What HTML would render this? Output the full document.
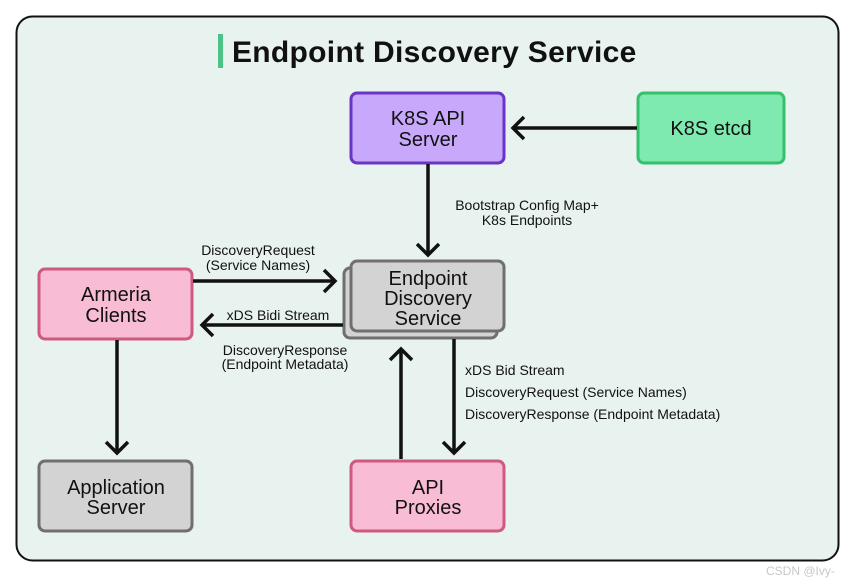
<!DOCTYPE html>
<html><head><meta charset="utf-8"><style>
html,body{margin:0;padding:0;background:#fff;}
svg{display:block;}
text{font-family:"Liberation Sans",sans-serif;fill:#111;}
</style></head><body>
<svg width="855" height="584" viewBox="0 0 855 584" xmlns="http://www.w3.org/2000/svg">
<rect x="16.5" y="16.5" width="822" height="544" rx="16" fill="#e8f2ee" stroke="#111" stroke-width="2"/>
<rect x="218" y="34" width="5" height="34" fill="#4cc287"/>
<text x="232" y="62" font-size="30" font-weight="bold" letter-spacing="0.3">Endpoint Discovery Service</text>

<g stroke-width="3" stroke-linejoin="round">
<rect x="351" y="93" width="153" height="70" rx="6" fill="#c8a8fb" stroke="#6a35c4"/>
<rect x="638" y="93" width="146" height="70" rx="6" fill="#7eeab0" stroke="#35c06d"/>
<rect x="39" y="269" width="153" height="70" rx="6" fill="#f8bcd5" stroke="#cf5a80"/>
<rect x="344" y="268" width="153" height="70" rx="6" fill="#d3d3d3" stroke="#6f6f6f"/>
<rect x="351" y="261" width="153" height="70" rx="6" fill="#d3d3d3" stroke="#6f6f6f"/>
<rect x="39" y="461" width="153" height="70" rx="6" fill="#d3d3d3" stroke="#6f6f6f"/>
<rect x="351" y="461" width="153" height="70" rx="6" fill="#f8bcd5" stroke="#cf5a80"/>
</g>

<g font-size="20" text-anchor="middle">
<text x="428" y="125">K8S API</text><text x="428" y="146">Server</text>
<text x="711" y="135">K8S etcd</text>
<text x="116" y="301">Armeria</text><text x="116" y="322">Clients</text>
<text x="428" y="285">Endpoint</text><text x="428" y="305">Discovery</text><text x="428" y="325">Service</text>
<text x="116" y="494">Application</text><text x="116" y="514">Server</text>
<text x="428" y="494">API</text><text x="428" y="514">Proxies</text>
</g>

<g stroke="#111" stroke-width="3.5" fill="none" stroke-linecap="butt">
<line x1="637" y1="128" x2="513" y2="128"/><polyline points="524,117 513,128 524,139"/>
<line x1="428" y1="164" x2="428" y2="255"/><polyline points="417,244 428,255 439,244"/>
<line x1="193" y1="281" x2="335" y2="281"/><polyline points="324,270 335,281 324,292"/>
<line x1="343" y1="325" x2="202" y2="325"/><polyline points="213,314 202,325 213,336"/>
<line x1="117" y1="340" x2="117" y2="453"/><polyline points="106,442 117,453 128,442"/>
<line x1="401" y1="459" x2="401" y2="349"/><polyline points="390,360 401,349 412,360"/>
<line x1="454" y1="339" x2="454" y2="453"/><polyline points="443,442 454,453 465,442"/>
</g>

<g font-size="14" text-anchor="middle">
<text x="527" y="210">Bootstrap Config Map+</text>
<text x="527" y="225">K8s Endpoints</text>
<text x="258" y="255">DiscoveryRequest</text>
<text x="258" y="270">(Service Names)</text>
<text x="278" y="320">xDS Bidi Stream</text>
<text x="285" y="355">DiscoveryResponse</text>
<text x="285" y="369">(Endpoint Metadata)</text>
</g>
<g font-size="14">
<text x="465" y="375">xDS Bid Stream</text>
<text x="465" y="397">DiscoveryRequest (Service Names)</text>
<text x="465" y="419">DiscoveryResponse (Endpoint Metadata)</text>
</g>
<text x="766" y="575" font-size="12" style="fill:#c8c8c8">CSDN @Ivy-</text>
</svg>
</body></html>
